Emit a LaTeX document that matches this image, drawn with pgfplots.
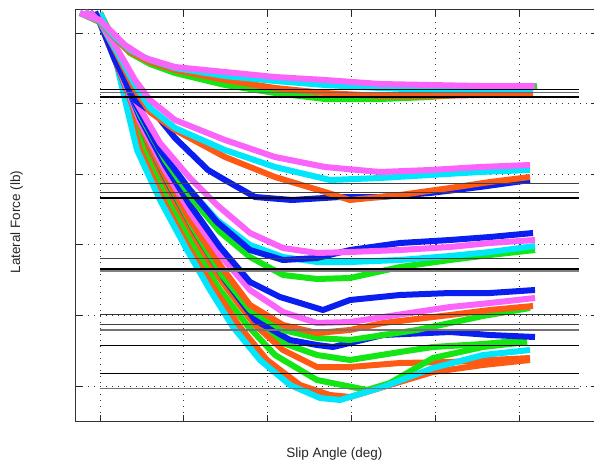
\documentclass[border=0pt]{standalone}
\usepackage{pgfplots}
\pgfplotsset{compat=1.18}
\usepackage{fontspec}
\setmainfont{Liberation Sans}
\definecolor{cG}{RGB}{20,230,20}
\definecolor{cO}{RGB}{255,90,20}
\definecolor{cB}{RGB}{10,30,240}
\definecolor{cM}{RGB}{250,100,250}
\definecolor{cC}{RGB}{0,230,250}
\begin{document}
\begin{tikzpicture}
\begin{axis}[
  at={(0,0)}, anchor=south west,
  scale only axis, width=521bp, height=411bp,
  xmin=76, xmax=597, ymin=10, ymax=421, y dir=reverse,
  xtick={100,183.8,267.6,351.4,435.2,519},
  ytick={33,103.6,174.2,244.8,315.4,386},
  xticklabels={}, yticklabels={},
  major tick length=6bp,
  tick style={black!85, line width=0.9bp},
  axis line style={black!80, line width=1bp},
  grid=major,
  major grid style={black!80, line width=0.9bp, dash pattern=on 1.3bp off 4.7bp},
  xlabel={Slip Angle (deg)}, ylabel={Lateral Force (lb)},
  label style={font=\fontsize{13.5bp}{16bp}\selectfont, text=black!85},
  x label style={at={(axis description cs:0.496,-0.080)}, anchor=center},
  y label style={at={(axis description cs:-0.114,0.484)}, anchor=center, rotate=0},
  every axis plot/.append style={line width=6bp, line join=round, line cap=round, smooth, tension=0.4},
]
% ---------- group E (bottom) ----------
\addplot[cG] coordinates {(100,13) (112,36) (130,100) (147,150) (173,200) (205,250) (233,290) (262,325) (283,343) (317,355) (350,360) (400,352) (433,347) (483,344) (527,340)};
\addplot[cO] coordinates {(100,13) (111,36) (129,100) (145,150) (170,200) (200,250) (228,290) (255,325) (283,350) (317,367) (350,367) (400,363) (450,362) (490,360) (530,358)};
\addplot[cG] coordinates {(100,13) (111,36) (128,100) (143,150) (167,200) (195,250) (220,290) (247,325) (275,355) (317,380) (367,390) (390,383) (433,358) (483,347) (527,342)};
\addplot[cO] coordinates {(100,13) (110,35) (126,100) (140,150) (163,200) (190,250) (215,290) (240,327) (267,360) (300,385) (330,395) (350,397) (383,387) (433,372) (483,365) (530,360)};
\addplot[cC] coordinates {(100,13) (110,35) (125,100) (137,150) (160,200) (187,250) (210,290) (233,327) (260,360) (290,385) (320,398) (340,400) (383,387) (433,368) (483,355) (530,350)};
% ---------- group D ----------
\addplot[cB] coordinates {(95,12) (100,23) (121,75) (143,132) (168,183) (195,232) (225,280) (255,320) (290,340) (317,345) (333,347) (383,335) (450,332) (490,335) (535,337)};
\addplot[cG] coordinates {(95,12) (100,23) (121,74) (142,130) (167,180) (193,228) (222,275) (250,310) (283,330) (317,338) (350,340) (417,330) (483,316) (530,308)};
\addplot[cO] coordinates {(95,12) (100,23) (120,72) (140,125) (165,175) (190,220) (220,265) (250,305) (283,325) (317,333) (350,330) (383,323) (450,315) (490,310) (533,306)};
\addplot[cM] coordinates {(95,12) (100,23) (120,70) (140,122) (165,170) (190,212) (220,255) (250,290) (283,312) (317,323) (350,322) (383,317) (450,307) (490,303) (535,298)};
\addplot[cB] coordinates {(95,12) (100,23) (120,68) (140,118) (165,165) (190,205) (220,247) (250,282) (280,297) (300,303) (323,310) (350,300) (400,295) (450,293) (490,293) (535,290)};
% ---------- group C ----------
\addplot[cG] coordinates {(90,12) (100,23) (118,62) (140,115) (165,160) (193,200) (220,232) (250,257) (283,275) (317,279) (350,278) (400,267) (450,260) (490,255) (535,250)};
\addplot[cC] coordinates {(90,12) (100,23) (117,60) (137,108) (162,152) (190,190) (217,220) (250,245) (283,257) (317,262) (350,262) (400,260) (450,256) (490,252) (535,246)};
\addplot[cB] coordinates {(90,12) (100,22) (115,57) (135,103) (160,150) (190,190) (217,222) (250,250) (283,260) (317,258) (350,250) (400,243) (450,240) (490,237) (533,233)};
\addplot[cM] coordinates {(90,12) (100,22) (115,55) (135,100) (160,143) (190,178) (217,205) (250,233) (283,248) (317,253) (350,252) (400,250) (450,247) (490,243) (535,240)};
% ---------- group B ----------
\addplot[cB] coordinates {(85,12) (100,22) (115,60) (135,100) (158,117) (175,138) (208,170) (225,180) (255,197) (292,200) (340,197) (380,197) (430,193) (480,187) (530,180)};
\addplot[cO] coordinates {(85,12) (100,22) (115,50) (135,90) (150,112) (175,130) (225,157) (275,177) (325,192) (350,200) (400,195) (450,188) (490,182) (530,177)};
\addplot[cC] coordinates {(85,12) (100,22) (115,48) (135,85) (150,108) (175,128) (225,150) (275,167) (330,180) (380,178) (430,175) (480,172) (530,170)};
\addplot[cM] coordinates {(85,12) (100,22) (115,45) (135,80) (150,100) (175,120) (225,140) (275,157) (325,167) (380,172) (430,170) (480,167) (530,165)};
% ---------- group A (top) ----------
\addplot[cG] coordinates {(80,13) (100,22) (115,38) (130,53) (150,64) (175,73) (225,85) (275,93) (325,99) (380,99) (430,97) (480,93) (537,86)};
\addplot[cO] coordinates {(80,13) (100,22) (115,38) (130,52) (150,62) (175,70) (225,80) (275,88) (325,93) (380,96) (430,96) (480,95) (533,94)};
\addplot[cC] coordinates {(80,13) (100,21) (115,37) (130,50) (150,60) (175,68) (225,76) (275,81) (325,85) (380,88) (430,90) (480,90) (533,89)};
\addplot[cM] coordinates {(80,13) (100,20) (115,35) (125,45) (145,58) (175,67) (225,72) (275,77) (325,80) (380,84) (430,85) (480,86) (535,86)};
% ---------- horizontal reference lines ----------
\pgfplotsset{every axis plot/.append style={sharp plot, line cap=butt}}
\addplot[black, line width=0.9bp] coordinates {(100,89.3) (579,89.3)};
\addplot[black!60, line width=1.2bp] coordinates {(100,92.7) (579,92.7)};
\addplot[black, line width=1.8bp] coordinates {(100,96.7) (579,96.7)};
\addplot[black!75, line width=0.9bp] coordinates {(100,183) (579,183)};
\addplot[black!75, line width=0.9bp] coordinates {(100,192.7) (579,192.7)};
\addplot[black, line width=1.8bp] coordinates {(100,198) (579,198)};
\addplot[black!75, line width=0.9bp] coordinates {(100,258.7) (579,258.7)};
\addplot[black, line width=1.6bp] coordinates {(100,269) (579,269)};
\addplot[black!50, line width=1.4bp] coordinates {(100,271) (579,271)};
\addplot[black!80, line width=0.9bp] coordinates {(100,314) (579,314)};
\addplot[black!75, line width=0.9bp] coordinates {(100,324.5) (579,324.5)};
\addplot[black!55, line width=1.6bp] coordinates {(100,330) (579,330)};
\addplot[black, line width=0.9bp] coordinates {(100,345) (579,345)};
\addplot[black, line width=0.9bp] coordinates {(100,373) (579,373)};
\addplot[black!55, line width=1.8bp] coordinates {(100,388.5) (579,388.5)};
\end{axis}
\pgfresetboundingbox
\path[use as bounding box] (-76bp,-45bp) rectangle (518bp,421bp);
\end{tikzpicture}
\end{document}
